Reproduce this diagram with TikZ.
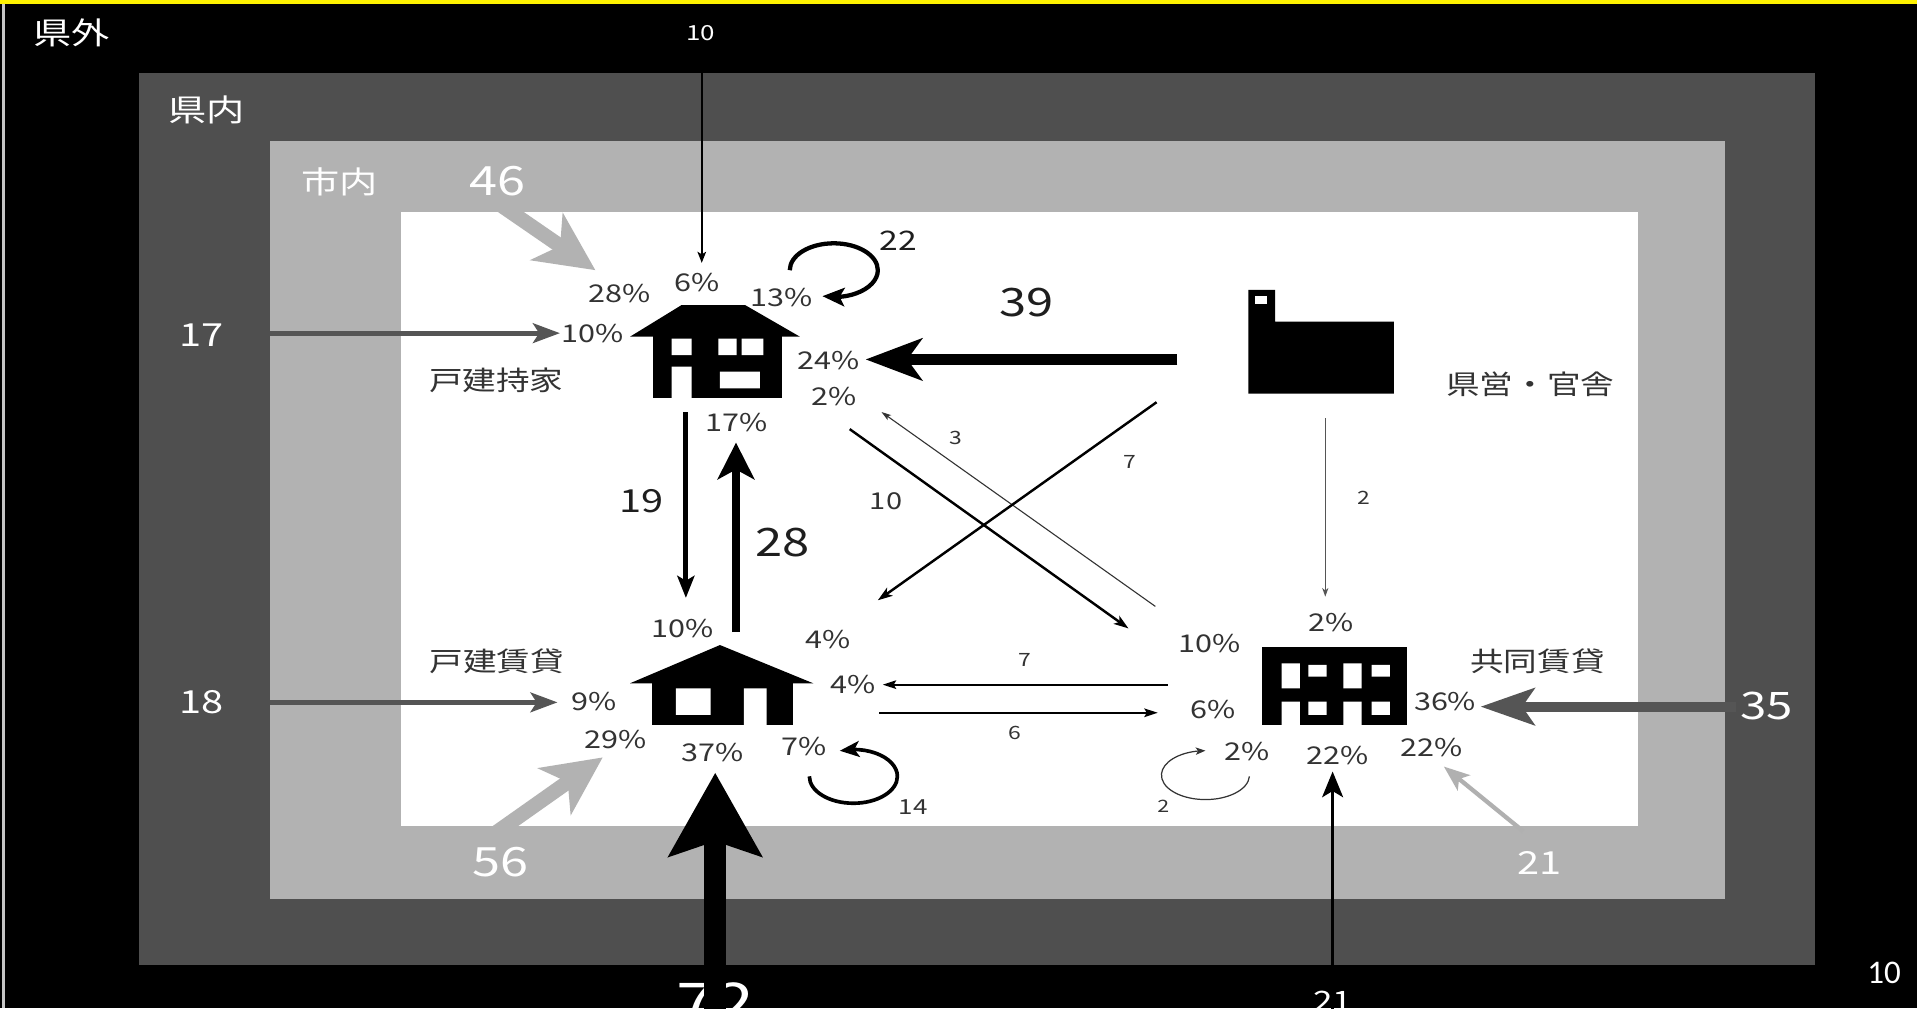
\documentclass[tikz,border=0pt]{standalone}
\usepackage{fontspec}
\setmainfont{Noto Sans CJK JP}[FakeStretch=1.25]
\newfontfamily\pagefont{Carlito}
\usetikzlibrary{arrows.meta,bending}
\definecolor{bandA}{HTML}{4F4F4F}
\definecolor{bandB}{HTML}{B2B2B2}
\definecolor{arrdark}{HTML}{555555}
\definecolor{arrlight}{HTML}{B0B0B0}
\definecolor{txtgray}{HTML}{333333}
\definecolor{numblack}{HTML}{1E1E1E}
\newcommand{\myfs}[1]{\fontsize{#1}{#1}\selectfont}
\begin{document}
\begin{tikzpicture}[x=1pt,y=-1pt,
  wt/.style={text=white, inner sep=0pt},
  pct/.style={font=\myfs{20}, text=txtgray, inner sep=0pt},
  jlab/.style={font=\myfs{22}, text=txtgray, inner sep=0pt},
  dnum/.style={text=numblack, inner sep=0pt},
  snum/.style={font=\myfs{15}, text=txtgray, inner sep=0pt},
  icon/.style={fill=black},
  hole/.style={fill=white},
  thinarr/.style={line width=1.6, -{Stealth[length=11,width=7,inset=2]}},
  diagarr/.style={line width=2, -{Stealth[length=12,width=8,inset=3]}}
]
\useasboundingbox (0,0) rectangle (1568,824.5);
% bands
\fill[black] (0,0) rectangle (1568,824.5);
\fill[yellow] (0,0) rectangle (1568,3.5);
\fill[gray!45] (1.5,3.5) rectangle (4,824.5);
\fill[bandA] (113.7,59.7) rectangle (1484.5,789.7);
\fill[bandB] (220.8,115.7) rectangle (1411,735.7);
\fill[white] (328,173.4) rectangle (1339.4,675.6);

% region labels (white)
\node[wt, font=\myfs{25}] (kengai) at (58.5,26.6) {県外};
\node[wt, font=\myfs{25}] (kennai) at (169,90) {県内};
\node[wt, font=\myfs{25}] (shinai) at (278,149) {市内};

% ---------- icons ----------
% house 1 (戸建持家)
\fill[icon] (557.5,249.5) -- (609.4,249.5) -- (654.3,275.4) -- (515.3,275.4) -- cycle;
\fill[icon] (534.4,275) rectangle (639.4,325.8);
\fill[hole] (549.4,276.9) rectangle (565.7,290.4)
            (549.4,299.9) rectangle (565.7,326.5)
            (587.5,276.9) rectangle (602.5,290.4)
            (606.6,276.9) rectangle (624.3,290.4)
            (588.9,304) rectangle (621.6,317.6);
% house 2 (戸建賃貸)
\fill[icon] (515.3,558.9) -- (588.9,527.6) -- (665.2,558.9) -- cycle;
\fill[icon] (533,558.5) rectangle (649,593);
\fill[hole] (552.9,563) rectangle (581.3,584.8)
            (608.5,563) rectangle (627.1,593.5);
% factory (県営・官舎)
\fill[icon] (1021,237) -- (1043,237) -- (1043,263) -- (1140,263) -- (1140,322) -- (1021,322) -- cycle;
\fill[hole] (1026.5,242) rectangle (1036.4,248.7);
% apartment (共同賃貸)
\fill[icon] (1032,529) rectangle (1150.6,593);
\fill[hole] (1048.3,542.6) rectangle (1063.3,563)
            (1070.1,543.9) rectangle (1085.1,553.5)
            (1098.8,542.6) rectangle (1113.7,563)
            (1121.9,543.9) rectangle (1136.9,553.5)
            (1048.3,573.9) rectangle (1063.3,593.5)
            (1098.8,573.9) rectangle (1113.7,593.5)
            (1070.1,573.9) rectangle (1085.1,584.8)
            (1121.9,573.9) rectangle (1136.9,584.8);

% ---------- node labels ----------
\node[jlab] (lab1) at (406,311) {戸建持家};
\node[jlab] (lab2) at (406.5,541) {戸建賃貸};
\node[jlab] (lab3) at (1251.7,314) {県営・官舎};
\node[jlab] (lab4) at (1257.5,541) {共同賃貸};

% ---------- percentages ----------
\node[pct] (p1a) at (507,240) {28\%};
\node[pct] (p1b) at (570,231) {6\%};
\node[pct] (p1c) at (639,243) {13\%};
\node[pct] (p1d) at (484.5,272.6) {10\%};
\node[pct] (p1e) at (678,294.5) {24\%};
\node[pct] (p1f) at (682,324) {2\%};
\node[pct] (p1g) at (602.5,345.7) {17\%};
\node[pct] (p2a) at (558,514) {10\%};
\node[pct] (p2b) at (677.7,523.5) {4\%};
\node[pct] (p2c) at (697.7,560.3) {4\%};
\node[pct] (p2d) at (486,574) {9\%};
\node[pct] (p2e) at (503.5,605.3) {29\%};
\node[pct] (p2f) at (582.8,615.6) {37\%};
\node[pct] (p2g) at (657.6,610.7) {7\%};
\node[pct] (p4a) at (1089,509) {2\%};
\node[pct] (p4b) at (989,526) {10\%};
\node[pct] (p4c) at (992,580) {6\%};
\node[pct] (p4d) at (1182,574) {36\%};
\node[pct] (p4e) at (1020,615) {2\%};
\node[pct] (p4f) at (1094,617.6) {22\%};
\node[pct] (p4g) at (1171,611.6) {22\%};

% ---------- flow numbers ----------
\node[wt, font=\myfs{33}] (n46) at (407,148) {46};
\node[wt, font=\myfs{17}] (n10t) at (573,27) {10};
\node[wt, font=\myfs{26}] (n17) at (165,274) {17};
\node[wt, font=\myfs{26}] (n18) at (165,574) {18};
\node[wt, font=\myfs{33}] (n56) at (409,705) {56};
\node[wt, font=\myfs{46}, anchor=base] (n72) at (585,837) {72};
\node[wt, font=\myfs{23}, anchor=base] (n21b) at (1090,827) {21};
\node[wt, font=\myfs{26}] (n21r) at (1259,706) {21};
\node[wt, font=\myfs{31}] (n35) at (1445,577.5) {35};
\node[wt, font=\pagefont\myfs{27}] (page) at (1541,795.6) {10};
\node[dnum, font=\myfs{22}] (n22) at (735,197) {22};
\node[dnum, font=\myfs{32}] (n39) at (840,247.6) {39};
\node[dnum, font=\myfs{26}] (n19) at (524.7,410.3) {19};
\node[dnum, font=\myfs{32}] (n28) at (640,444) {28};
\node[snum] (n3) at (782,358.5) {3};
\node[snum] (n7d) at (924.3,377.6) {7};
\node[snum, font=\myfs{19}] (n10d) at (724.7,410.3) {10};
\node[snum] (n2v) at (1115.5,407.6) {2};
\node[snum] (n7h) at (838.4,539.8) {7};
\node[snum] (n6h) at (830,599.6) {6};
\node[snum, font=\myfs{17}] (n14) at (747,659.8) {14};
\node[snum, font=\myfs{14}] (n2l) at (951.5,659.2) {2};

% ---------- connector end points ----------
\coordinate (c10s) at (574,40);     \coordinate (c10e) at (574,215);
\coordinate (c46s) at (410,168);    \coordinate (c46e) at (487,221);
\coordinate (c17s) at (221,272.5);  \coordinate (c17e) at (458,272.5);
\coordinate (c18s) at (221,574.5);  \coordinate (c18e) at (456,574.5);
\coordinate (c39s) at (963,294);    \coordinate (c39e) at (708,294);
\coordinate (c19s) at (561,337);    \coordinate (c19e) at (561,489);
\coordinate (c28s) at (602,517);    \coordinate (c28e) at (602,362);
\coordinate (c3s) at (945,496);     \coordinate (c3e) at (721,337);
\coordinate (c10ds) at (695,351);   \coordinate (c10de) at (923,514);
\coordinate (c7ds) at (946,329);    \coordinate (c7de) at (718,491);
\coordinate (c2vs) at (1084,342);   \coordinate (c2ve) at (1084,488);
\coordinate (c7hs) at (955,560);    \coordinate (c7he) at (722,560);
\coordinate (c6hs) at (719,583);    \coordinate (c6he) at (947,583);
\coordinate (c56s) at (403,683);    \coordinate (c56e) at (493,619.5);
\coordinate (c72s) at (585,830);    \coordinate (c72e) at (585,632);
\coordinate (c21bs) at (1090,830);  \coordinate (c21be) at (1090,631);
\coordinate (c21rs) at (1246,680);  \coordinate (c21re) at (1181,627);
\coordinate (c35s) at (1420,578);   \coordinate (c35e) at (1211,578);
\coordinate (l22s) at (646,221);
\coordinate (l14s) at (662,635);
\coordinate (l2s) at (1021.95,635.05);

% ---------- connectors ----------
\draw[line width=1.5, -{Stealth[length=9,width=7,inset=2]}] (c10s) -- (c10e);
\draw[bandB, line width=12, -{Stealth[length=48,width=46,inset=13]}] (c46s) -- (c46e);
\draw[arrdark, line width=4, -{Stealth[length=22,width=16,inset=5]}] (c17s) -- (c17e);
\draw[arrdark, line width=4, -{Stealth[length=22,width=16,inset=5]}] (c18s) -- (c18e);
\draw[line width=9, -{Stealth[length=46,width=34,inset=12]}] (c39s) -- (c39e);
\draw[line width=4, -{Stealth[length=18,width=14,inset=4]}] (c19s) -- (c19e);
\draw[line width=6, -{Stealth[length=30,width=30,inset=8]}] (c28s) -- (c28e);
\draw[txtgray, line width=0.9, -{Stealth[length=8,width=5,inset=2]}] (c3s) -- (c3e);
\draw[diagarr] (c10ds) -- (c10de);
\draw[diagarr] (c7ds) -- (c7de);
\draw[arrdark, line width=1, -{Stealth[length=7,width=5,inset=2]}] (c2vs) -- (c2ve);
\draw[thinarr] (c7hs) -- (c7he);
\draw[thinarr] (c6hs) -- (c6he);
\draw[bandB, line width=12, -{Stealth[length=48,width=46,inset=13]}] (c56s) -- (c56e);
\draw[line width=18, -{Stealth[length=68,width=75,inset=12]}] (c72s) -- (c72e);
\draw[line width=3, -{Stealth[length=21,width=17,inset=5]}] (c21bs) -- (c21be);
\draw[arrlight, line width=3.5, -{Stealth[length=21,width=16,inset=5]}] (c21rs) -- (c21re);
\draw[arrdark, line width=8, -{Stealth[length=44,width=30,inset=10]}] (c35s) -- (c35e);
% self loops
\draw[line width=3.5, -{Stealth[length=18,width=15,inset=4]}] (l22s) arc[start angle=-180, end angle=105, x radius=36, y radius=22];
\draw[line width=3, -{Stealth[length=16,width=13,inset=4]}] (l14s) arc[start angle=-180, end angle=-468, x radius=36, y radius=22];
\draw[txtgray, line width=1, -{Stealth[length=8,width=6,inset=2]}] (l2s) arc[start angle=3, end angle=270, x radius=36, y radius=20];
\end{tikzpicture}
\end{document}
